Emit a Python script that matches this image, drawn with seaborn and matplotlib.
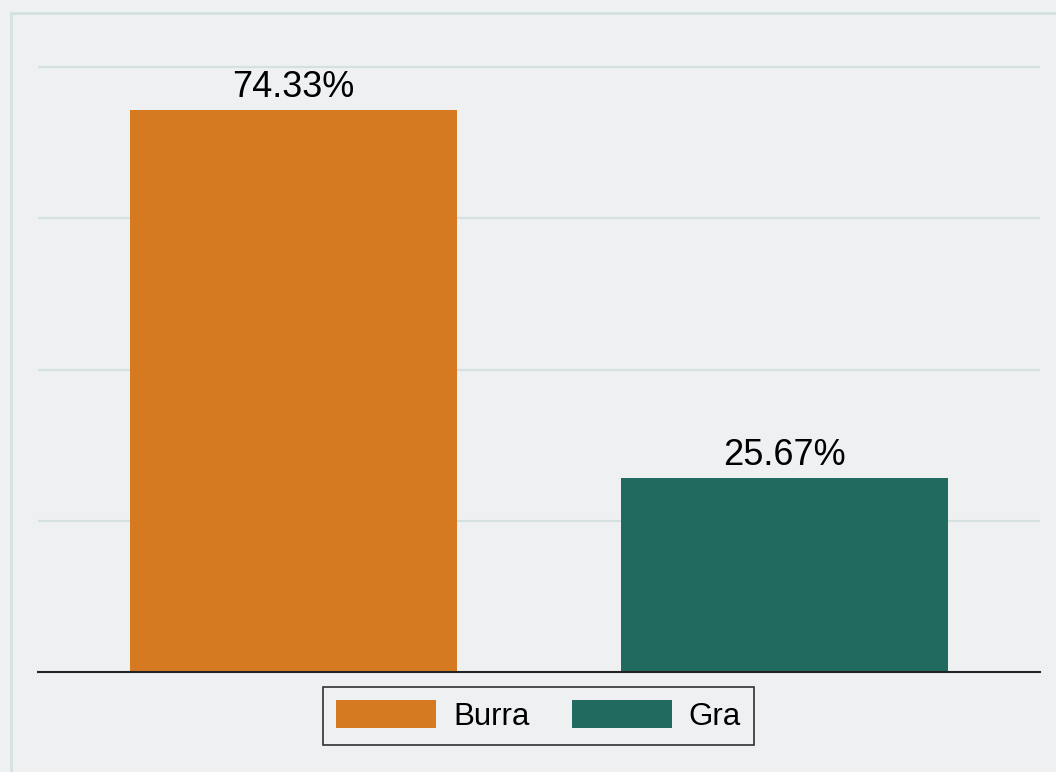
import matplotlib
matplotlib.use("Agg")
import matplotlib.pyplot as plt
import matplotlib.patches as mpatches
import seaborn as sns

sns.set_theme(style="white")
plt.rcParams["font.family"] = ["Liberation Sans", "DejaVu Sans"]

# ── data ──────────────────────────────────────────────────────────────────────
categories = ["Burra", "Gra"]
shares     = [74.33, 25.67]
colors     = ["#D57A21", "#216A60"]
yticks     = [20, 40, 60, 80]

BG   = "#EEF0F2"
GRID = "#D5E1E1"

fig = plt.figure(figsize=(10.56, 7.72), dpi=100, facecolor=BG)
ax = fig.add_axes([38 / 1056, 1 - 672 / 772, 1002 / 1056, 612 / 772])
ax.set_facecolor(BG)

# outer frame (Stata-like), runs off the right and bottom edges
fig.patches.append(mpatches.Rectangle((11 / 1056, -0.1), 1.2, 1.1 - 13 / 772,
                                      transform=fig.transFigure, fill=False,
                                      edgecolor=GRID, linewidth=2, zorder=0))

sns.barplot(x=categories, y=shares, hue=categories, palette=colors,
            width=0.666, dodge=False, saturation=1, linewidth=0,
            ax=ax, legend=True)

for cont in ax.containers:
    ax.bar_label(cont, fmt="%.2f%%", padding=3.5, fontsize=26, color="black")

ax.set_xlim(-0.52, 1.52)
ax.set_ylim(0, 80.93)
ax.set_yticks(yticks)
ax.set_yticklabels([])
ax.tick_params(left=False, bottom=False, labelbottom=False)
ax.set_xlabel("")
ax.set_ylabel("")
ax.grid(axis="y", color=GRID, linewidth=1.5)
ax.set_axisbelow(True)
for side in ["top", "right", "left"]:
    ax.spines[side].set_visible(False)
ax.spines["bottom"].set_color("#222222")
ax.spines["bottom"].set_linewidth(1.5)

handles, labels = ax.get_legend_handles_labels()
if ax.get_legend() is not None:
    ax.get_legend().remove()
leg = fig.legend(handles, labels, loc="center", bbox_to_anchor=(538.5 / 1056, 1 - 716 / 772),
                 ncol=2, fontsize=22.5, frameon=True, fancybox=False,
                 handlelength=3.2, handleheight=0.98, handletextpad=0.55,
                 columnspacing=1.34, borderpad=0.42, labelcolor="black")
leg.get_frame().set_edgecolor("black")
leg.get_frame().set_linewidth(1.2)
leg.get_frame().set_facecolor(BG)

fig.savefig("out.png", dpi=100, facecolor=BG)
